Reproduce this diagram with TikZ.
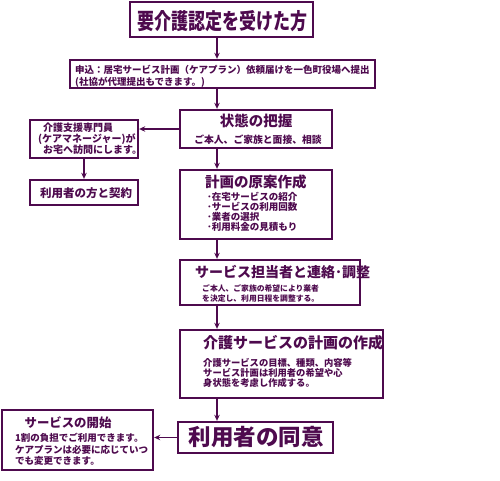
\documentclass[tikz,border=0pt]{standalone}
\usepackage{fontspec}
\setmainfont{Noto Sans CJK JP}[BoldFont={Noto Sans CJK JP Black}]
\usetikzlibrary{arrows.meta}
\definecolor{pur}{RGB}{78,10,78}
\newcommand{\fsz}[2]{\fontsize{#1pt}{#2pt}\selectfont}
\begin{document}
\begin{tikzpicture}[x=1pt,y=-1pt,
  box/.style={draw=pur,line width=2.4pt,fill=white,inner sep=0pt},
  txt/.style={text=pur,inner sep=0pt,align=left},
  fs/.style n args={2}{font=\bfseries\fsz{#1}{#2}},
  conn/.style={draw=pur,line width=1.6pt,-{Stealth[length=6pt,width=5.5pt]}}]
\useasboundingbox[fill=white] (0,0) rectangle (500,480);
% boxes
\node[box,minimum width=183pt,minimum height=35pt] (b1) at (221.5,19.5) {};
\node[box,minimum width=305pt,minimum height=28pt] (b2) at (222.5,74) {};
\node[box,minimum width=108pt,minimum height=38pt] (b3) at (84,139) {};
\node[box,minimum width=108pt,minimum height=25pt] (b4) at (84,192.5) {};
\node[box,minimum width=152pt,minimum height=38pt] (b5) at (256,129) {};
\node[box,minimum width=152pt,minimum height=69pt] (b6) at (256,204.5) {};
\node[box,minimum width=180pt,minimum height=45pt] (b7) at (270,282.5) {};
\node[box,minimum width=203pt,minimum height=68pt] (b8) at (281.5,364) {};
\node[box,minimum width=155pt,minimum height=31pt] (b9) at (255.5,437.5) {};
\node[box,minimum width=151pt,minimum height=60pt] (b10) at (77.5,440) {};
\coordinate (col) at (217,0);
% texts
\node[txt,fs={17}{20}] (t1) at (222,21) {\scalebox{1}[1.3]{要介護認定を受けた方}};
\node[txt,fs={9.5}{12},anchor=north west] (t2) at (75,65.3) {申込：居宅サービス計画（ケアプラン）依頼届けを一色町役場へ提出\\(社協が代理提出もできます。)};
\node[txt,fs={10}{10.5},anchor=north west] (t3) at (43,123) {介護支援専門員\\\hspace*{-5pt}(ケアマネージャー)が\\お宅へ訪問にします。};
\node[txt,fs={11.5}{13}] (t4) at (86,193) {利用者の方と契約};
\node[txt,fs={14.5}{16}] (t5a) at (256,121) {状態の把握};
\node[txt,fs={9.8}{11}] (t5b) at (258,140) {ご本人、ご家族と面接、相談};
\node[txt,fs={14.5}{16},anchor=west] (t6a) at (205,182) {計画の原案作成};
\node[txt,fs={9.5}{10},anchor=north west] (t6b) at (207,192.3) {･在宅サービスの紹介\\･サービスの利用回数\\･業者の選択\\･利用料金の見積もり};
\node[txt,fs={14}{16},anchor=west] (t7a) at (195,272) {サービス担当者と連絡･調整};
\node[txt,fs={7.8}{10},anchor=north west] (t7b) at (202,284.2) {ご本人、ご家族の希望により業者\\を決定し、利用日程を調整する。};
\node[txt,fs={15}{16},anchor=west] (t8a) at (203,343) {介護サービスの計画の作成};
\node[txt,fs={9.3}{10},anchor=north west] (t8b) at (203,358.4) {介護サービスの目標、種類、内容等\\サービス計画は利用者の希望や心\\身状態を考慮し作成する。};
\node[txt,fs={22.5}{24}] (t9) at (256,437) {利用者の同意};
\node[txt,fs={12.4}{14}] (t10a) at (68,423) {サービスの開始};
\node[txt,fs={9.5}{11.5},anchor=north west] (t10b) at (15,433.3) {1割の負担でご利用できます。\\ケアプランは必要に応じていつ\\でも変更できます。};
% connectors
\draw[conn] (b1.south -| col) -- (b2.north -| col);
\draw[conn] (b2.south -| col) -- (b5.north -| col);
\draw[conn] (b5.south -| col) -- (b6.north -| col);
\draw[conn] (b6.south -| col) -- (b7.north -| col);
\draw[conn] (b7.south -| col) -- (b8.north -| col);
\draw[conn] (b8.south -| col) -- (b9.north -| col);
\draw[conn] (b5.west) -- (b5.west -| b3.east);
\draw[conn] (b3.south) -- (b4.north);
\draw[conn] (b9.west) -- (b9.west -| b10.east);
\end{tikzpicture}
\end{document}
